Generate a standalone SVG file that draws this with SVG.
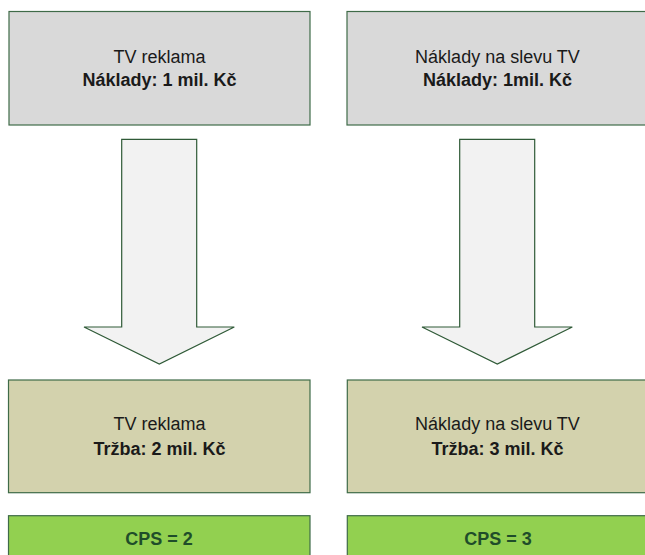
<svg xmlns="http://www.w3.org/2000/svg" width="645" height="555" viewBox="0 0 645 555">
  <style>
    .box { stroke: #3f6b48; stroke-width: 1.2; }
    .cost { fill: #d9d9d9; }
    .rev { fill: #d3d2ad; }
    .cps { fill: #92d050; }
    .arrow { fill: #f2f2f2; stroke: #2f5a37; stroke-width: 1.2; stroke-linejoin: miter; }
    text { font-family: "Liberation Sans", Arial, sans-serif; font-size: 18px; text-anchor: middle; fill: #1a1a1a; }
    .b { font-weight: bold; }
    .g { font-weight: bold; fill: #1f4d2a; }
  </style>

  <g id="cost-tv">
    <rect class="box cost" x="9" y="11.5" width="301" height="113.5"/>
    <text x="159.5" y="63">TV reklama</text>
    <text class="b" x="159.5" y="86">Náklady: 1 mil. Kč</text>
  </g>

  <g id="cost-discount">
    <rect class="box cost" x="347" y="11.5" width="301" height="113.5"/>
    <text x="497.5" y="63">Náklady na slevu TV</text>
    <text class="b" x="497.5" y="86">Náklady: 1mil. Kč</text>
  </g>

  <g id="connectors">
    <path class="arrow" d="M121.7 139.3 H196.7 V327 H234.3 L159.3 364 L84 327 H121.7 Z"/>
    <path class="arrow" d="M459.7 139.3 H534.7 V327 H572.3 L497.3 364 L422 327 H459.7 Z"/>
  </g>

  <g id="revenue-tv">
    <rect class="box rev" x="8.5" y="380" width="301.5" height="112.7"/>
    <text x="159.5" y="430">TV reklama</text>
    <text class="b" x="159.5" y="455">Tržba: 2 mil. Kč</text>
  </g>

  <g id="revenue-discount">
    <rect class="box rev" x="347.3" y="380" width="301" height="112.7"/>
    <text x="497.5" y="430">Náklady na slevu TV</text>
    <text class="b" x="497.5" y="455">Tržba: 3 mil. Kč</text>
  </g>

  <g id="cps-tv">
    <rect class="box cps" x="8.5" y="515.7" width="301.5" height="45"/>
    <text class="g" x="159" y="545">CPS = 2</text>
  </g>

  <g id="cps-discount">
    <rect class="box cps" x="347.3" y="515.7" width="301" height="45"/>
    <text class="g" x="498" y="545">CPS = 3</text>
  </g>
</svg>
